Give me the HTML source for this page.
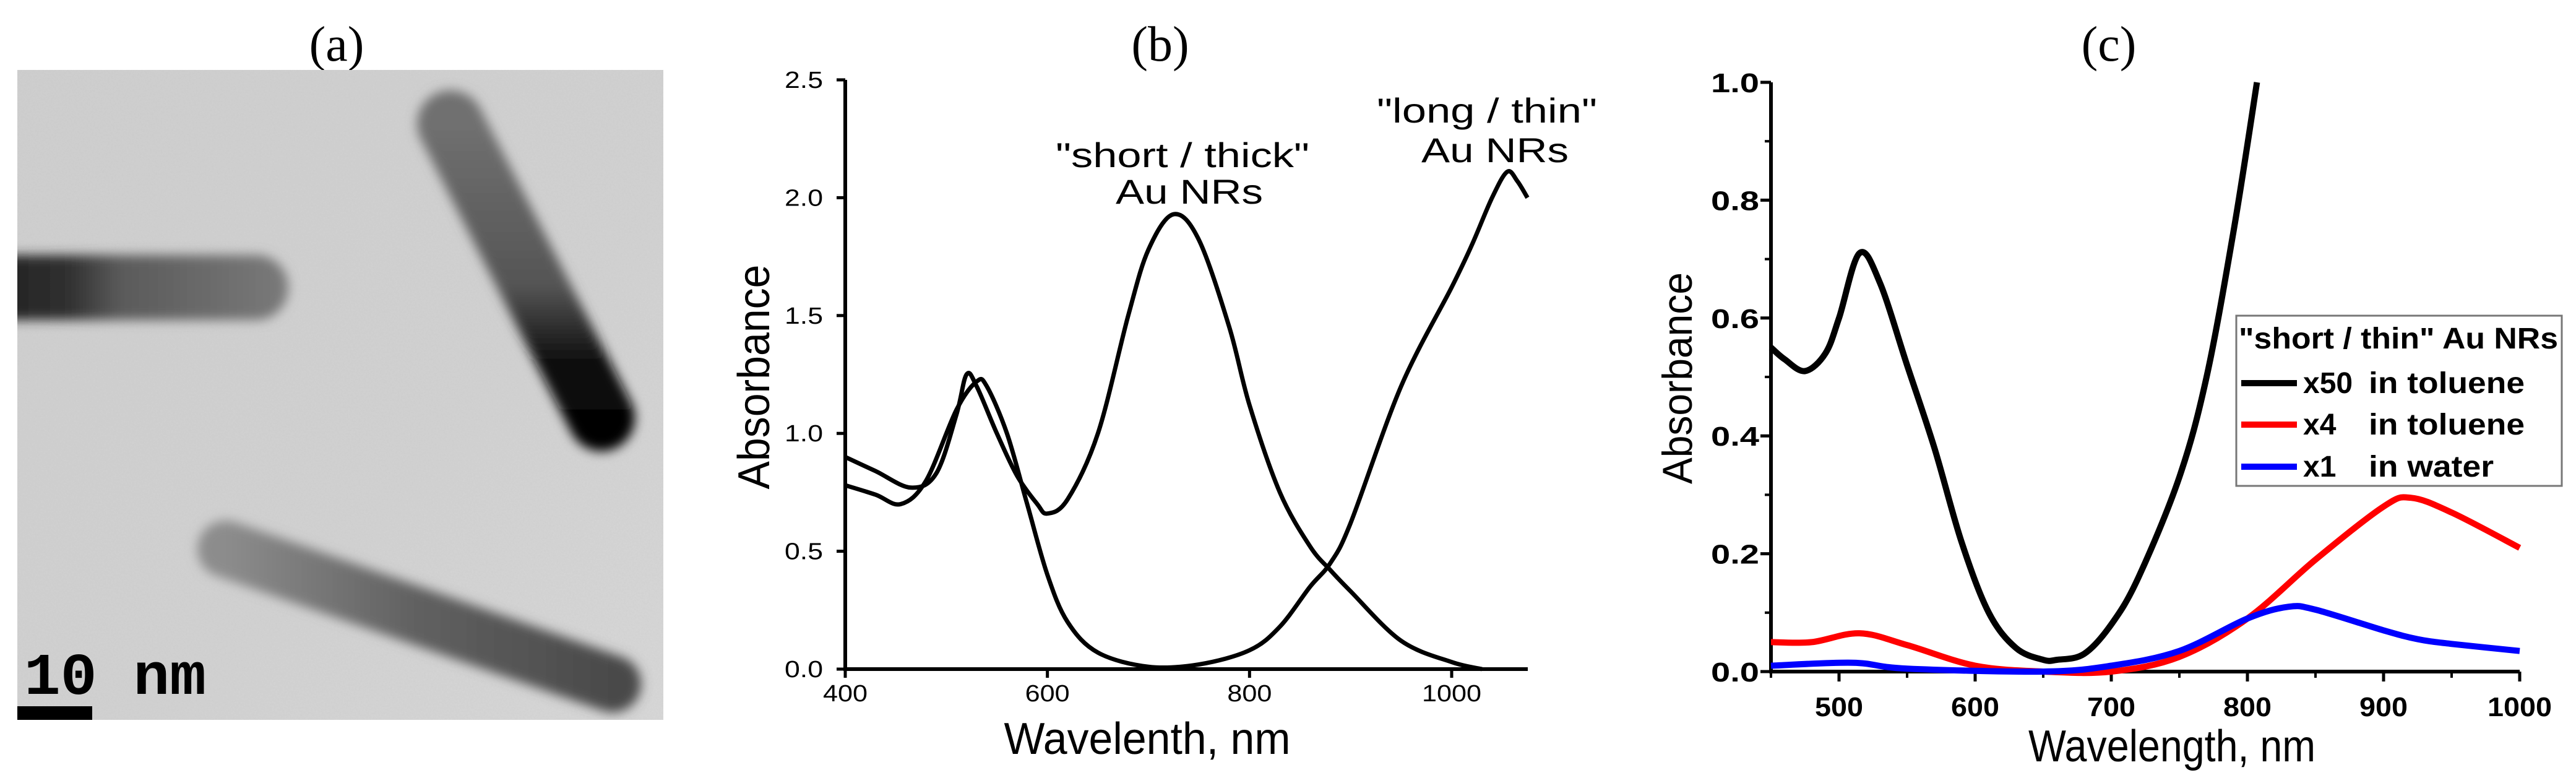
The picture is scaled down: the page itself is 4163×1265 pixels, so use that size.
<!DOCTYPE html>
<html><head><meta charset="utf-8"><style>
html,body{margin:0;padding:0;background:#fff;}
svg{display:block;}
text{font-family:"Liberation Sans",sans-serif;}
</style></head><body>
<svg id="fig" width="4163" height="1265" viewBox="0 0 4163 1265" xmlns="http://www.w3.org/2000/svg">
<defs>
<filter id="blur" x="-20%" y="-20%" width="140%" height="140%"><feGaussianBlur stdDeviation="9"/></filter>
<filter id="noise" x="0" y="0" width="100%" height="100%"><feTurbulence type="fractalNoise" baseFrequency="0.35" numOctaves="2" seed="3"/><feColorMatrix type="matrix" values="0 0 0 0 0.5  0 0 0 0 0.5  0 0 0 0 0.5  0 0 0 0.35 0"/><feComposite in2="SourceGraphic" operator="in"/></filter>
<linearGradient id="bg" x1="0" y1="0" x2="1" y2="1"><stop offset="0" stop-color="#cfcfcf"/><stop offset="0.6" stop-color="#d2d2d2"/><stop offset="1" stop-color="#d8d8d8"/></linearGradient>
<linearGradient id="r1" x1="0" y1="0" x2="1" y2="0"><stop offset="0" stop-color="#1a1a1a"/><stop offset="0.35" stop-color="#303030"/><stop offset="0.5" stop-color="#5a5a5a"/><stop offset="1" stop-color="#7a7a7a"/></linearGradient>
<linearGradient id="r2" x1="0" y1="0" x2="0" y2="1"><stop offset="0" stop-color="#707070"/><stop offset="0.55" stop-color="#555"/><stop offset="0.8" stop-color="#111"/><stop offset="1" stop-color="#050505"/></linearGradient>
<linearGradient id="r3" x1="0" y1="0" x2="1" y2="0"><stop offset="0" stop-color="#8c8c8c"/><stop offset="0.5" stop-color="#606060"/><stop offset="1" stop-color="#4a4a4a"/></linearGradient>
<clipPath id="aclip"><rect x="28" y="113" width="1044" height="1050"/></clipPath>
</defs>

<g>
<text x="544" y="98" font-size="80" text-anchor="middle" style="font-family:'Liberation Serif',serif">(a)</text>
<g clip-path="url(#aclip)">
<rect x="28" y="113" width="1044" height="1050" fill="url(#bg)"/>
<rect x="28" y="113" width="1044" height="1050" fill="#fff" filter="url(#noise)" opacity="0.6"/>
<g filter="url(#blur)">
<rect x="-80" y="412" width="546" height="105" rx="52" fill="url(#r1)"/>
<line x1="728" y1="200" x2="972" y2="675" stroke="url(#r2)" stroke-width="108" stroke-linecap="round"/>
<line x1="365" y1="887" x2="990" y2="1105" stroke="url(#r3)" stroke-width="92" stroke-linecap="round"/>
</g>
</g>
<rect x="28" y="1141" width="121" height="22" fill="#000"/>
<text x="39" y="1121" font-size="96" font-weight="bold" style="font-family:'Liberation Mono',monospace" textLength="294" lengthAdjust="spacingAndGlyphs">10 nm</text>
</g>

<g id="pb"></g>
<g id="pc"></g>
</svg>
<script>
const bShortX = [400,430,465,490,510,520,530,550,570,590,600,620,650,680,700,725,750,780,800,830,860,880,900,950,1000,1030];
const bShortY = [0.90,0.84,0.77,0.83,1.08,1.25,1.20,1.00,0.82,0.70,0.66,0.72,1.00,1.50,1.78,1.93,1.82,1.45,1.12,0.75,0.52,0.42,0.33,0.12,0.03,0.0];
const bLongX = [400,430,455,480,510,530,540,560,580,600,620,650,700,750,800,830,860,880,900,950,1000,1020,1040,1055,1065,1075];
const bLongY = [0.78,0.74,0.70,0.80,1.10,1.22,1.20,1.00,0.70,0.40,0.20,0.07,0.01,0.02,0.08,0.18,0.35,0.45,0.62,1.20,1.62,1.80,2.00,2.11,2.07,2.00];
const bYTicks = [0,0.5,1.0,1.5,2.0,2.5];
const bYLabels = ["0.0","0.5","1.0","1.5","2.0","2.5"];
const bXTicks = [400,600,800,1000];
const bXLabels = ["400","600","800","1000"];
const cX = [450,460,475,490,500,515,530,550,570,590,610,630,650,660,680,700,720,750,770,790,807];
const cBlack = [0.55,0.53,0.51,0.54,0.60,0.71,0.66,0.52,0.38,0.22,0.10,0.04,0.02,0.02,0.03,0.08,0.16,0.33,0.50,0.75,1.0];
const cRedX = [450,480,515,550,600,650,700,750,800,850,900,920,950,1000];
const cRed = [0.05,0.05,0.065,0.045,0.01,0.0,0.0,0.025,0.09,0.19,0.28,0.295,0.27,0.21];
const cBlueX = [450,510,550,650,700,750,800,830,850,900,925,950,1000];
const cBlue = [0.01,0.015,0.005,0.0,0.01,0.035,0.09,0.11,0.105,0.07,0.055,0.047,0.035];
const cYTicks = [0,0.2,0.4,0.6,0.8,1.0];
const cYLabels = ["0.0","0.2","0.4","0.6","0.8","1.0"];
const cXTicks = [500,600,700,800,900,1000];
const cXLabels = ["500","600","700","800","900","1000"];

const NS = "http://www.w3.org/2000/svg";
function mk(parent, tag, attrs, txt){
  const e = document.createElementNS(NS, tag);
  for (const k in attrs) e.setAttribute(k, attrs[k]);
  if (txt !== undefined) e.textContent = txt;
  parent.appendChild(e);
  return e;
}
function smooth(pts){
  let d = "M" + pts[0][0].toFixed(1) + "," + pts[0][1].toFixed(1);
  for (let i = 0; i < pts.length - 1; i++){
    const p0 = pts[Math.max(0,i-1)], p1 = pts[i], p2 = pts[i+1], p3 = pts[Math.min(pts.length-1,i+2)];
    const c1x = p1[0] + (p2[0]-p0[0])/6, c1y = p1[1] + (p2[1]-p0[1])/6;
    const c2x = p2[0] - (p3[0]-p1[0])/6, c2y = p2[1] - (p3[1]-p1[1])/6;
    d += " C" + c1x.toFixed(1) + "," + c1y.toFixed(1) + " " + c2x.toFixed(1) + "," + c2y.toFixed(1) + " " + p2[0].toFixed(1) + "," + p2[1].toFixed(1);
  }
  return d;
}

const pb = document.getElementById("pb");
const bx = v => 1366 + (v - 400) * (980 / 600);
const by = v => 1081 - v * (952 / 2.5);
let t;
t = mk(pb, "text", {x:1875, y:98, "font-size":80, "text-anchor":"middle", style:"font-family:'Liberation Serif',serif"}, "(b)");


let ax = mk(pb, "path", {d:"M1366,129 V1081 H2469", fill:"none", stroke:"#000", "stroke-width":6});


bYTicks.forEach((v, i) => {
  const tk = mk(pb, "line", {x1:1352, x2:1366, y1:by(v), y2:by(v), stroke:"#000", "stroke-width":5});
  
  
  const lb = mk(pb, "text", {x:1330, y:by(v)+13, "font-size":38, "text-anchor":"end", textLength:62, lengthAdjust:"spacingAndGlyphs"}, bYLabels[i]);
  
  
});
bXTicks.forEach((v, i) => {
  const tk = mk(pb, "line", {x1:bx(v), x2:bx(v), y1:1081, y2:1095, stroke:"#000", "stroke-width":5});
  
  
  const lb = mk(pb, "text", {x:bx(v), y:1133, "font-size":38, "text-anchor":"middle", textLength: bXLabels[i].length*24, lengthAdjust:"spacingAndGlyphs"}, bXLabels[i]);
  
  
});
t = mk(pb, "text", {x:1854, y:1218, "font-size":72, "text-anchor":"middle", textLength:463, lengthAdjust:"spacingAndGlyphs"}, "Wavelenth, nm");


t = mk(pb, "text", {x:0, y:0, "font-size":72, "text-anchor":"middle", textLength:363, lengthAdjust:"spacingAndGlyphs", transform:"translate(1243,609) rotate(-90)"}, "Absorbance");


let s1 = mk(pb, "path", {d:smooth(bShortX.map((x,i)=>[bx(x),by(bShortY[i])])), fill:"none", stroke:"#000", "stroke-width":7, "stroke-linejoin":"round"});


let s2 = mk(pb, "path", {d:smooth(bLongX.map((x,i)=>[bx(x),by(bLongY[i])])), fill:"none", stroke:"#000", "stroke-width":7, "stroke-linejoin":"round"});


t = mk(pb, "text", {x:1911, y:270, "font-size":56, "text-anchor":"middle", textLength:410, lengthAdjust:"spacingAndGlyphs"}, "\"short / thick\"");


t = mk(pb, "text", {x:1922, y:329, "font-size":56, "text-anchor":"middle", textLength:238, lengthAdjust:"spacingAndGlyphs"}, "Au NRs");


t = mk(pb, "text", {x:2403, y:198, "font-size":56, "text-anchor":"middle", textLength:356, lengthAdjust:"spacingAndGlyphs"}, "\"long / thin\"");


t = mk(pb, "text", {x:2416, y:262, "font-size":56, "text-anchor":"middle", textLength:238, lengthAdjust:"spacingAndGlyphs"}, "Au NRs");



const pc = document.getElementById("pc");
const cx = v => 2862 + (v - 450) * 2.2;
const cy = v => 1085 - v * 952;
t = mk(pc, "text", {x:3408, y:98, "font-size":80, "text-anchor":"middle", style:"font-family:'Liberation Serif',serif"}, "(c)");


ax = mk(pc, "path", {d:"M2862,133 V1085 H4072", fill:"none", stroke:"#000", "stroke-width":6});


for (let k = 1; k <= 9; k += 2){
  const v = k / 10;
  const tk = mk(pc, "line", {x1:2852, x2:2862, y1:cy(v), y2:cy(v), stroke:"#000", "stroke-width":4});
  
  
}
for (let v = 450; v <= 950; v += 100){
  const tk = mk(pc, "line", {x1:cx(v), x2:cx(v), y1:1085, y2:1095, stroke:"#000", "stroke-width":4});
  
  
}
cYTicks.forEach((v, i) => {
  const tk = mk(pc, "line", {x1:2845, x2:2862, y1:cy(v), y2:cy(v), stroke:"#000", "stroke-width":5});
  
  
  const lb = mk(pc, "text", {x:2843, y:cy(v)+16, "font-size":44, "font-weight":"bold", "text-anchor":"end", textLength:78, lengthAdjust:"spacingAndGlyphs"}, cYLabels[i]);
  
  
});
cXTicks.forEach((v, i) => {
  const tk = mk(pc, "line", {x1:cx(v), x2:cx(v), y1:1085, y2:1101, stroke:"#000", "stroke-width":5});
  
  
  const lb = mk(pc, "text", {x:cx(v), y:1157, "font-size":44, "font-weight":"bold", "text-anchor":"middle", textLength: cXLabels[i].length*26, lengthAdjust:"spacingAndGlyphs"}, cXLabels[i]);
  
  
});
t = mk(pc, "text", {x:3510, y:1230, "font-size":72, "text-anchor":"middle", textLength:464, lengthAdjust:"spacingAndGlyphs"}, "Wavelength, nm");


t = mk(pc, "text", {x:0, y:0, "font-size":68, "text-anchor":"middle", textLength:342, lengthAdjust:"spacingAndGlyphs", transform:"translate(2734,611) rotate(-90)"}, "Absorbance");


let lr = mk(pc, "path", {d:smooth(cRedX.map((x,i)=>[cx(x),cy(cRed[i])])), fill:"none", stroke:"#ff0000", "stroke-width":10, "stroke-linejoin":"round"});


let lbl = mk(pc, "path", {d:smooth(cBlueX.map((x,i)=>[cx(x),cy(cBlue[i])])), fill:"none", stroke:"#0000ff", "stroke-width":10, "stroke-linejoin":"round"});


let lk = mk(pc, "path", {d:smooth(cX.map((x,i)=>[cx(x),cy(cBlack[i])])), fill:"none", stroke:"#000", "stroke-width":10, "stroke-linejoin":"round"});


const lg = mk(pc, "g", {});


let box = mk(lg, "rect", {x:3614, y:510, width:526, height:275, fill:"#fff", stroke:"#777", "stroke-width":3});


t = mk(lg, "text", {x:3618, y:563, "font-size":48, "font-weight":"bold", textLength:516, lengthAdjust:"spacingAndGlyphs"}, "\"short / thin\" Au NRs");


const legColors = ["#000","#ff0000","#0000ff"];
const legPrefix = ["x50","x4","x1"];
const legRest = ["in toluene","in toluene","in water"];
const legY = [619,686,754];
const legRestLen = [252,252,202];
legColors.forEach((c, i) => {
  const ln = mk(lg, "line", {x1:3622, x2:3712, y1:legY[i], y2:legY[i], stroke:c, "stroke-width":10});
  
  
  const p = mk(lg, "text", {x:3722, y:legY[i]+16, "font-size":48, "font-weight":"bold"}, legPrefix[i]);
  
  
  const r = mk(lg, "text", {x:3828, y:legY[i]+16, "font-size":48, "font-weight":"bold", textLength:legRestLen[i], lengthAdjust:"spacingAndGlyphs"}, legRest[i]);
  
  
});
</script>
</body></html>
